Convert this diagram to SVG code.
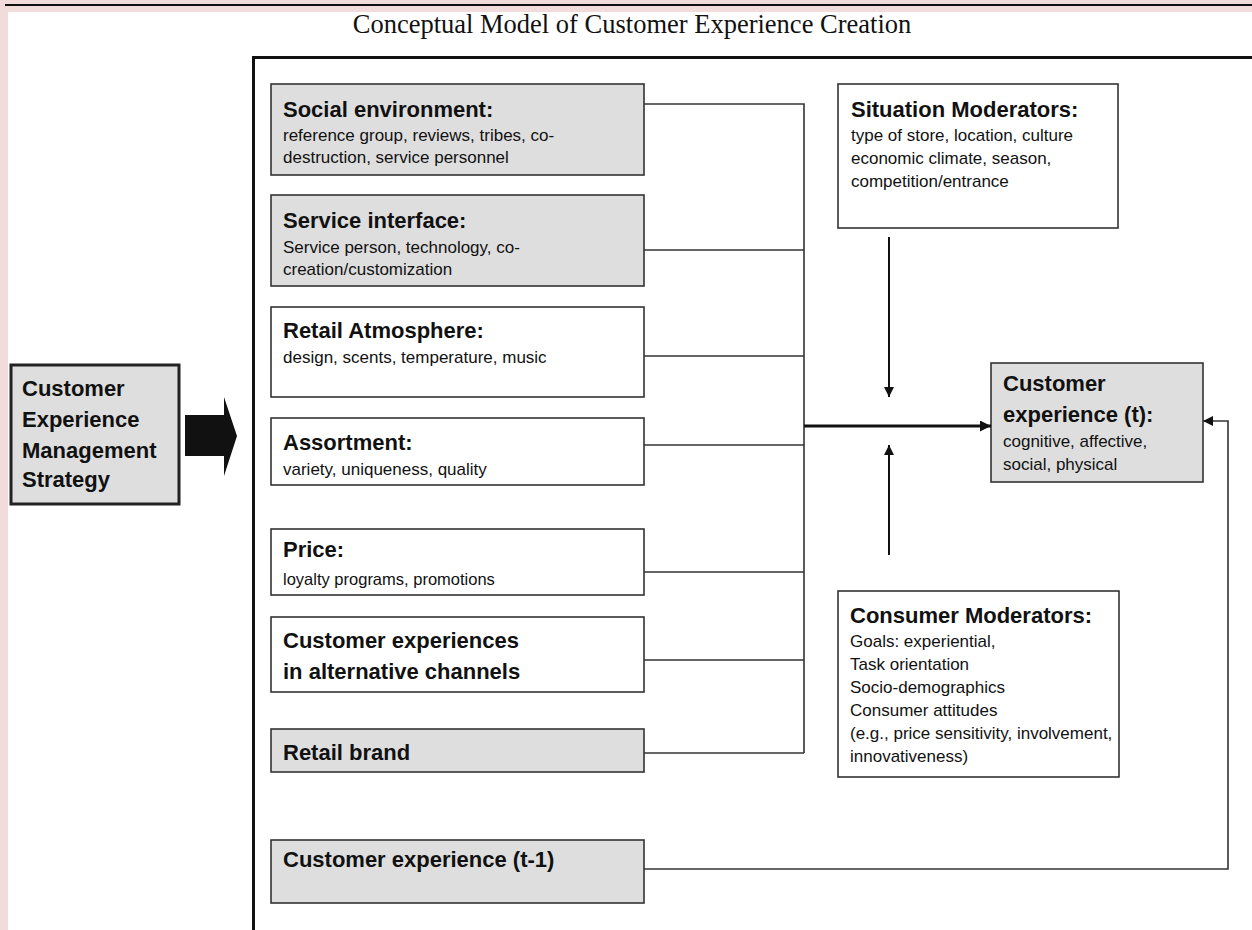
<svg xmlns="http://www.w3.org/2000/svg" width="1252" height="930" viewBox="0 0 1252 930">
  <style>
    .box { stroke: #333; stroke-width: 1.6; }
    .grey { fill: #dedede; }
    .white { fill: #ffffff; }
    .h { font-family: "Liberation Sans", Arial, sans-serif; font-weight: bold; font-size: 22px; fill: #111; }
    .b { font-family: "Liberation Sans", Arial, sans-serif; font-size: 17px; fill: #111; }
    .wire { fill: none; stroke: #333; stroke-width: 1.6; }
    .title { font-family: "Liberation Serif", "Times New Roman", serif; font-size: 26.5px; fill: #111; }
  </style>
  <defs>
    <marker id="tip" viewBox="0 0 10 10" refX="10" refY="5" markerWidth="10" markerHeight="10" markerUnits="userSpaceOnUse" orient="auto">
      <path d="M0,0 L10,5 L0,10 z" fill="#111"/>
    </marker>
    <marker id="tipBig" viewBox="0 0 10 10" refX="10" refY="5" markerWidth="13" markerHeight="11" markerUnits="userSpaceOnUse" orient="auto">
      <path d="M0,0 L10,5 L0,10 z" fill="#111"/>
    </marker>
  </defs>

  <!-- page background and pink margin -->
  <rect x="0" y="0" width="1252" height="930" fill="#ffffff"/>
  <rect x="0" y="0" width="1252" height="12" fill="#f2dcdb"/>
  <rect x="0" y="0" width="8" height="930" fill="#f2dcdb"/>
  <line x1="5" y1="5" x2="1252" y2="5" stroke="#111" stroke-width="2.2"/>

  <!-- title -->
  <text class="title" x="632" y="33" text-anchor="middle">Conceptual Model of Customer Experience Creation</text>

  <!-- outer frame -->
  <path d="M253.5,932 V57.5 H1254" fill="none" stroke="#111" stroke-width="3"/>

  <!-- strategy box and block arrow -->
  <g id="strategy">
    <rect x="11" y="365" width="168" height="139" fill="#dedede" stroke="#222" stroke-width="3"/>
    <text class="h" x="22" y="396">Customer</text>
    <text class="h" x="22" y="427">Experience</text>
    <text class="h" x="22" y="458">Management</text>
    <text class="h" x="22" y="487">Strategy</text>
  </g>
  <g id="strategy-arrow">
    <path d="M185,415 H224 V397 L237,436 L224,476 V456 H185 z" fill="#111"/>
  </g>

  <!-- left column of drivers -->
  <g id="social">
    <rect class="box grey" x="271" y="84" width="373" height="91"/>
    <text class="h" x="283" y="117">Social environment:</text>
    <text class="b" x="283" y="141">reference group, reviews, tribes, co-</text>
    <text class="b" x="283" y="163">destruction,  service personnel</text>
  </g>
  <g id="service">
    <rect class="box grey" x="271" y="195" width="373" height="91"/>
    <text class="h" x="283" y="228">Service interface:</text>
    <text class="b" x="283" y="253">Service person, technology, co-</text>
    <text class="b" x="283" y="275">creation/customization</text>
  </g>
  <g id="atmosphere">
    <rect class="box white" x="271" y="307" width="373" height="90"/>
    <text class="h" x="283" y="338">Retail Atmosphere:</text>
    <text class="b" x="283" y="363">design, scents, temperature, music</text>
  </g>
  <g id="assortment">
    <rect class="box white" x="271" y="418" width="373" height="67"/>
    <text class="h" x="283" y="450">Assortment:</text>
    <text class="b" x="283" y="475">variety, uniqueness, quality</text>
  </g>
  <g id="price">
    <rect class="box white" x="271" y="529" width="373" height="66"/>
    <text class="h" x="283" y="557">Price:</text>
    <text class="b" x="283" y="585" style="font-size:16.5px">loyalty programs, promotions</text>
  </g>
  <g id="channels">
    <rect class="box white" x="271" y="617" width="373" height="75"/>
    <text class="h" x="283" y="648">Customer experiences</text>
    <text class="h" x="283" y="679">in alternative channels</text>
  </g>
  <g id="brand">
    <rect class="box grey" x="271" y="729" width="373" height="43"/>
    <text class="h" x="283" y="760">Retail brand</text>
  </g>
  <g id="previous">
    <rect class="box grey" x="271" y="840" width="373" height="63"/>
    <text class="h" x="283" y="867">Customer experience (t-1)</text>
  </g>

  <!-- moderators and outcome -->
  <g id="situation">
    <rect class="box white" x="838" y="84" width="280" height="144"/>
    <text class="h" x="851" y="117">Situation Moderators:</text>
    <text class="b" x="851" y="141">type of store, location, culture</text>
    <text class="b" x="851" y="164">economic climate, season,</text>
    <text class="b" x="851" y="187">competition/entrance</text>
  </g>
  <g id="consumer">
    <rect class="box white" x="838" y="591" width="281" height="186"/>
    <text class="h" x="850" y="623">Consumer Moderators:</text>
    <text class="b" x="850" y="647">Goals: experiential,</text>
    <text class="b" x="850" y="670">Task orientation</text>
    <text class="b" x="850" y="693">Socio-demographics</text>
    <text class="b" x="850" y="716">Consumer attitudes</text>
    <text class="b" x="850" y="739">(e.g., price sensitivity, involvement,</text>
    <text class="b" x="850" y="762"> innovativeness)</text>
  </g>
  <g id="experience">
    <rect class="box grey" x="991" y="363" width="212" height="119"/>
    <text class="h" x="1003" y="391">Customer</text>
    <text class="h" x="1003" y="422">experience (t):</text>
    <text class="b" x="1003" y="447">cognitive, affective,</text>
    <text class="b" x="1003" y="470">social, physical</text>
  </g>

  <!-- connectors -->
  <g id="connectors">
    <path class="wire" d="M644,104 H804 V753"/>
    <path class="wire" d="M644,250 H804"/>
    <path class="wire" d="M644,356 H804"/>
    <path class="wire" d="M644,445 H804"/>
    <path class="wire" d="M644,572 H804"/>
    <path class="wire" d="M644,660 H804"/>
    <path class="wire" d="M644,753 H804"/>
    <path d="M804,426 H991" fill="none" stroke="#111" stroke-width="3" marker-end="url(#tipBig)"/>
    <path d="M889,237 V397" fill="none" stroke="#111" stroke-width="2" marker-end="url(#tip)"/>
    <path d="M889,555 V445" fill="none" stroke="#111" stroke-width="2" marker-end="url(#tip)"/>
    <path class="wire" d="M644,869 H1228 V421 H1203" marker-end="url(#tip)"/>
  </g>
</svg>
